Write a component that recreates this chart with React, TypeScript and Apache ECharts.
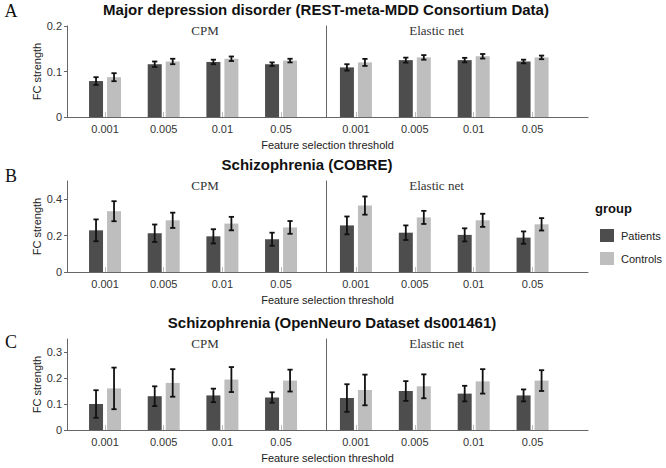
import React, { useEffect, useRef } from "react";
import * as echarts from "echarts";

// ---------- data ----------
const thresholds = ["0.001", "0.005", "0.01", "0.05"];
const groups = ["Patients", "Controls"];
const methods = ["CPM", "Elastic net"];
const panelTitles = [
  "Major depression disorder (REST-meta-MDD Consortium Data)",
  "Schizophrenia (COBRE)",
  "Schizophrenia (OpenNeuro Dataset ds001461)",
];
const panelLetters = ["A", "B", "C"];

// Panel A (MDD)
const mddCpmPatients = [0.079, 0.116, 0.121, 0.116];
const mddCpmPatientsErr = [0.0085, 0.006, 0.005, 0.004];
const mddCpmControls = [0.0875, 0.122, 0.128, 0.124];
const mddCpmControlsErr = [0.0088, 0.006, 0.005, 0.004];
const mddEnPatients = [0.109, 0.125, 0.125, 0.122];
const mddEnPatientsErr = [0.007, 0.0055, 0.005, 0.004];
const mddEnControls = [0.12, 0.131, 0.1335, 0.131];
const mddEnControlsErr = [0.0077, 0.005, 0.005, 0.004];

// Panel B (COBRE)
const cobreCpmPatients = [0.229, 0.213, 0.196, 0.18];
const cobreCpmPatientsErr = [0.06, 0.048, 0.039, 0.036];
const cobreCpmControls = [0.334, 0.284, 0.266, 0.245];
const cobreCpmControlsErr = [0.055, 0.042, 0.037, 0.035];
const cobreEnPatients = [0.256, 0.216, 0.204, 0.189];
const cobreEnPatientsErr = [0.049, 0.04, 0.036, 0.034];
const cobreEnControls = [0.365, 0.3, 0.284, 0.262];
const cobreEnControlsErr = [0.05, 0.036, 0.036, 0.034];

// Panel C (OpenNeuro ds001461)
const onCpmPatients = [0.1, 0.13, 0.133, 0.125];
const onCpmPatientsErr = [0.053, 0.038, 0.026, 0.02];
const onCpmControls = [0.16, 0.181, 0.194, 0.19];
const onCpmControlsErr = [0.08, 0.053, 0.048, 0.042];
const onEnPatients = [0.123, 0.15, 0.14, 0.133];
const onEnPatientsErr = [0.053, 0.038, 0.03, 0.023];
const onEnControls = [0.154, 0.168, 0.187, 0.19];
const onEnControlsErr = [0.059, 0.046, 0.047, 0.04];

// y axis ranges and tick labels
const yMax = [0.2, 0.5, 0.35];
const yTicks = [
  [0, 0.1, 0.2],
  [0, 0.2, 0.4],
  [0, 0.1, 0.2, 0.3],
];

const xTitle = "Feature selection threshold";
const yTitle = "FC strength";
const legendTitle = "group";

// ---------- layout / style ----------
const SANS = "'Liberation Sans', Arial, Helvetica, sans-serif";
const SERIF = "'Liberation Serif', 'Times New Roman', Times, serif";
const DARK = "#4d4d4d";
const LIGHT = "#bebebe";
const AXIS = "#666666";
const rowTop = [26, 181, 339];
const rowH = 91;
const frameLeft = 67;
const frameWidth = 521;
const leftGridLeft = 75.7;
const leftGridWidth = 234.7;
const rightGridLeft = 326.5;
const rightGridWidth = 235.5;
const titleX = [326, 307, 332];
const titleY = [9, 164, 322];
const letterY = [11, 176, 342];
const BAR_W = 14;
const BAR_GAP_PX = 4;
const ERR_OFFSET = (BAR_W + BAR_GAP_PX) / 2;

type Row = {
  cpm: number[][];
  cpmErr: number[][];
  en: number[][];
  enErr: number[][];
};

const rows: Row[] = [
  {
    cpm: [mddCpmPatients, mddCpmControls],
    cpmErr: [mddCpmPatientsErr, mddCpmControlsErr],
    en: [mddEnPatients, mddEnControls],
    enErr: [mddEnPatientsErr, mddEnControlsErr],
  },
  {
    cpm: [cobreCpmPatients, cobreCpmControls],
    cpmErr: [cobreCpmPatientsErr, cobreCpmControlsErr],
    en: [cobreEnPatients, cobreEnControls],
    enErr: [cobreEnPatientsErr, cobreEnControlsErr],
  },
  {
    cpm: [onCpmPatients, onCpmControls],
    cpmErr: [onCpmPatientsErr, onCpmControlsErr],
    en: [onEnPatients, onEnControls],
    enErr: [onEnPatientsErr, onEnControlsErr],
  },
];

function errRender(offset: number) {
  return (_params: any, api: any) => {
    const i = api.value(0);
    const m = api.value(1);
    const e = api.value(2);
    const c = api.coord([i, m]);
    const lo = api.coord([i, m - e]);
    const hi = api.coord([i, m + e]);
    const x = c[0] + offset;
    const style = { stroke: "#111111", lineWidth: 1.8 };
    return {
      type: "group",
      children: [
        { type: "line", shape: { x1: x, y1: lo[1], x2: x, y2: hi[1] }, style },
        { type: "line", shape: { x1: x - 2.6, y1: lo[1], x2: x + 2.6, y2: lo[1] }, style },
        { type: "line", shape: { x1: x - 2.6, y1: hi[1], x2: x + 2.6, y2: hi[1] }, style },
      ],
    };
  };
}

function buildOption() {
  const grid: any[] = [];
  const xAxis: any[] = [];
  const yAxis: any[] = [];
  const series: any[] = [];
  const graphic: any[] = [];

  rows.forEach((row, r) => {
    const base = r * 3;
    grid.push({ left: frameLeft, top: rowTop[r], width: frameWidth, height: rowH });
    grid.push({ left: leftGridLeft, top: rowTop[r], width: leftGridWidth, height: rowH });
    grid.push({ left: rightGridLeft, top: rowTop[r], width: rightGridWidth, height: rowH });

    xAxis.push({
      gridIndex: base,
      type: "value",
      min: 0,
      max: 1,
      axisLine: { show: true, onZero: false, lineStyle: { color: AXIS, width: 1 } },
      axisTick: { show: false },
      axisLabel: { show: false },
      splitLine: { show: false },
      name: xTitle,
      nameLocation: "middle",
      nameGap: 22,
      nameMoveOverlap: false,
      nameTextStyle: { fontFamily: SANS, fontSize: 11, color: "#222" },
    });
    yAxis.push({
      gridIndex: base,
      type: "value",
      min: 0,
      max: yMax[r],
      axisLine: { show: true, lineStyle: { color: AXIS, width: 1 } },
      axisTick: { show: true, length: 3, lineStyle: { color: AXIS }, customValues: yTicks[r] },
      axisLabel: {
        fontFamily: SANS,
        fontSize: 11,
        color: "#333",
        margin: 5,
        customValues: yTicks[r],
      },
      splitLine: { show: false },
      name: yTitle,
      nameLocation: "middle",
      nameGap: 25,
      nameMoveOverlap: false,
      nameTextStyle: { fontFamily: SANS, fontSize: 11, color: "#222" },
    });

    [0, 1].forEach((side) => {
      const gi = base + 1 + side;
      xAxis.push({
        gridIndex: gi,
        type: "category",
        data: thresholds,
        boundaryGap: true,
        axisLine: { show: false },
        axisTick: {
          show: true,
          inside: true,
          alignWithLabel: true,
          length: 5,
          lineStyle: { color: "#bbbbbb" },
        },
        axisLabel: { fontFamily: SANS, fontSize: 11, color: "#333", margin: 6 },
        splitLine: { show: false },
      });
      yAxis.push({
        gridIndex: gi,
        type: "value",
        min: 0,
        max: yMax[r],
        show: side === 1,
        axisLine: { show: true, lineStyle: { color: AXIS, width: 1 } },
        axisTick: { show: false },
        axisLabel: { show: false },
        splitLine: { show: false },
      });

      const vals = side === 0 ? row.cpm : row.en;
      const errs = side === 0 ? row.cpmErr : row.enErr;
      groups.forEach((g, k) => {
        series.push({
          name: g,
          type: "bar",
          xAxisIndex: gi,
          yAxisIndex: gi,
          data: vals[k],
          barWidth: BAR_W,
          barGap: `${(BAR_GAP_PX / BAR_W) * 100}%`,
          itemStyle: { color: k === 0 ? DARK : LIGHT },
          z: 2,
        });
      });
      groups.forEach((g, k) => {
        series.push({
          name: g + " error",
          type: "custom",
          xAxisIndex: gi,
          yAxisIndex: gi,
          renderItem: errRender(k === 0 ? -ERR_OFFSET : ERR_OFFSET),
          encode: { x: 0, y: 1 },
          data: vals[k].map((v, i) => [i, v, errs[k][i]]),
          z: 5,
        });
      });
    });

    graphic.push({
      type: "text",
      x: titleX[r],
      y: titleY[r],
      style: {
        text: panelTitles[r],
        font: `bold 15px ${SANS}`,
        fill: "#111",
        align: "center",
        verticalAlign: "middle",
      },
    });
    graphic.push({
      type: "text",
      x: 11,
      y: letterY[r],
      style: {
        text: panelLetters[r],
        font: `18px ${SERIF}`,
        fill: "#111",
        align: "center",
        verticalAlign: "middle",
      },
    });
    graphic.push({
      type: "text",
      x: 205,
      y: rowTop[r] + 4.5,
      style: {
        text: methods[0],
        font: `13px ${SERIF}`,
        fill: "#333",
        align: "center",
        verticalAlign: "middle",
      },
    });
    graphic.push({
      type: "text",
      x: 436.5,
      y: rowTop[r] + 4.5,
      style: {
        text: methods[1],
        font: `13px ${SERIF}`,
        fill: "#333",
        align: "center",
        verticalAlign: "middle",
      },
    });
  });

  graphic.push({
    type: "text",
    x: 595,
    y: 208,
    style: {
      text: legendTitle,
      font: `bold 13px ${SANS}`,
      fill: "#111",
      align: "left",
      verticalAlign: "middle",
    },
  });

  return {
    animation: false,
    backgroundColor: "#ffffff",
    grid,
    xAxis,
    yAxis,
    series,
    graphic,
    legend: {
      data: groups,
      orient: "vertical",
      left: 595,
      top: 224,
      icon: "rect",
      itemWidth: 14,
      itemHeight: 13,
      itemGap: 10,
      selectedMode: false,
      textStyle: {
        fontFamily: SANS,
        fontSize: 11,
        color: "#222",
        lineHeight: 13,
        padding: [0, 0, 0, 2],
      },
    },
  };
}

export default function App() {
  const ref = useRef<HTMLDivElement>(null);
  useEffect(() => {
    if (!ref.current) return;
    const chart = echarts.init(ref.current, undefined, { renderer: "svg" });
    chart.setOption(buildOption() as any);
    return () => chart.dispose();
  }, []);
  return (
    <div
      ref={ref}
      style={{ position: "fixed", left: 0, top: 0, width: 666, height: 468, background: "#fff" }}
    />
  );
}
